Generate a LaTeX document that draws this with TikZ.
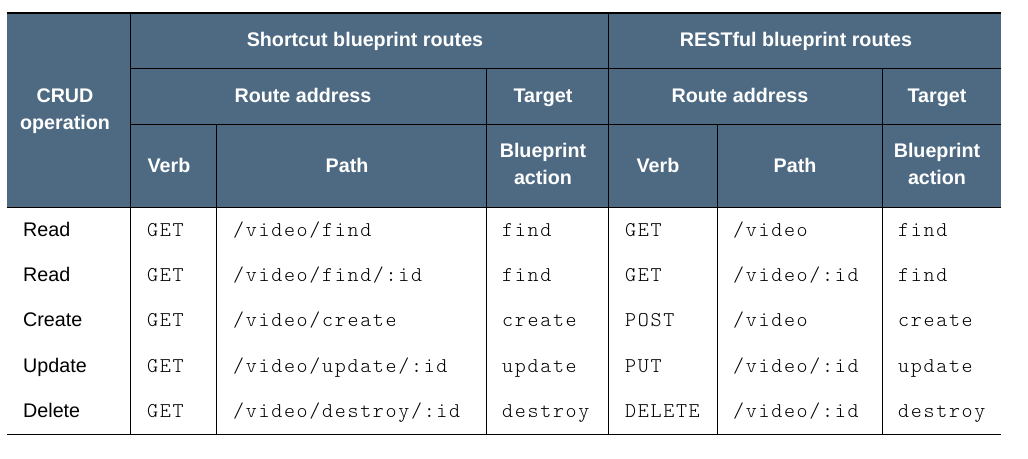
\documentclass[tikz,border=0pt]{standalone}
\usepackage{fontspec}
\setmainfont{Liberation Sans}
\setmonofont[LetterSpace=8]{Latin Modern Mono Light}
\usepackage{tikz}
\definecolor{headblue}{HTML}{4E6A83}

\begin{document}
\begin{tikzpicture}[x=1pt,y=-1pt]
\tikzstyle{hd} = [font=\fontsize{19.7}{27}\selectfont\bfseries, text=white, align=center, inner sep=0pt, anchor=base]
\tikzstyle{cell} = [font=\fontsize{19.7}{24}\selectfont, inner sep=0pt, anchor=base west]
\tikzstyle{code} = [font=\fontsize{21}{24}\selectfont\ttfamily, inner sep=0pt, anchor=base west]
\tikzstyle{rule} = [draw=black, line width=1pt]

\useasboundingbox (0,0) rectangle (1028,458);
\fill[headblue] (7,13) rectangle (1001,207);

% header rules
\draw[rule,line width=2pt] (7,13) -- (1001,13);
\draw[rule] (130,68) -- (1001,68);
\draw[rule] (130,124) -- (1001,124);
\draw[rule] (7,207) -- (1001,207);
\draw[rule] (7,434) -- (1001,434);
\draw[rule] (130,13) -- (130,434);
\draw[rule] (608,13) -- (608,434);
\draw[rule] (486,68) -- (486,434);
\draw[rule] (882,68) -- (882,434);
\draw[rule] (216,124) -- (216,434);
\draw[rule] (717,124) -- (717,434);

% header texts
\node[hd] (crud) at (65,129) {CRUD\\operation};
\node[hd] (short) at (365,46) {Shortcut blueprint routes};
\node[hd] (rest) at (796,46) {RESTful blueprint routes};
\node[hd] (addrA) at (303,102) {Route address};
\node[hd] (tgtA) at (543,102) {Target};
\node[hd] (addrB) at (740,102) {Route address};
\node[hd] (tgtB) at (937,102) {Target};
\node[hd] (verbA) at (169,172) {Verb};
\node[hd] (pathA) at (347,172) {Path};
\node[hd] (actA) at (543,184) {Blueprint\\action};
\node[hd] (verbB) at (658,172) {Verb};
\node[hd] (pathB) at (795,172) {Path};
\node[hd] (actB) at (937,184) {Blueprint\\action};

% rows
\node[cell] (op1) at (23,236) {Read};
\node[code] (vA1) at (147,236) {GET};
\node[code] (pA1) at (233,236) {/video/find};
\node[code] (aA1) at (502,236) {find};
\node[code] (vB1) at (625,236) {GET};
\node[code] (pB1) at (733,236) {/video};
\node[code] (aB1) at (898,236) {find};

\node[cell] (op2) at (23,281) {Read};
\node[code] (vA2) at (147,281) {GET};
\node[code] (pA2) at (233,281) {/video/find/:id};
\node[code] (aA2) at (502,281) {find};
\node[code] (vB2) at (625,281) {GET};
\node[code] (pB2) at (733,281) {/video/:id};
\node[code] (aB2) at (898,281) {find};

\node[cell] (op3) at (23,326) {Create};
\node[code] (vA3) at (147,326) {GET};
\node[code] (pA3) at (233,326) {/video/create};
\node[code] (aA3) at (502,326) {create};
\node[code] (vB3) at (625,326) {POST};
\node[code] (pB3) at (733,326) {/video};
\node[code] (aB3) at (898,326) {create};

\node[cell] (op4) at (23,372) {Update};
\node[code] (vA4) at (147,372) {GET};
\node[code] (pA4) at (233,372) {/video/update/:id};
\node[code] (aA4) at (502,372) {update};
\node[code] (vB4) at (625,372) {PUT};
\node[code] (pB4) at (733,372) {/video/:id};
\node[code] (aB4) at (898,372) {update};

\node[cell] (op5) at (23,417) {Delete};
\node[code] (vA5) at (147,417) {GET};
\node[code] (pA5) at (233,417) {/video/destroy/:id};
\node[code] (aA5) at (502,417) {destroy};
\node[code] (vB5) at (625,417) {DELETE};
\node[code] (pB5) at (733,417) {/video/:id};
\node[code] (aB5) at (898,417) {destroy};

\end{tikzpicture}
\end{document}
